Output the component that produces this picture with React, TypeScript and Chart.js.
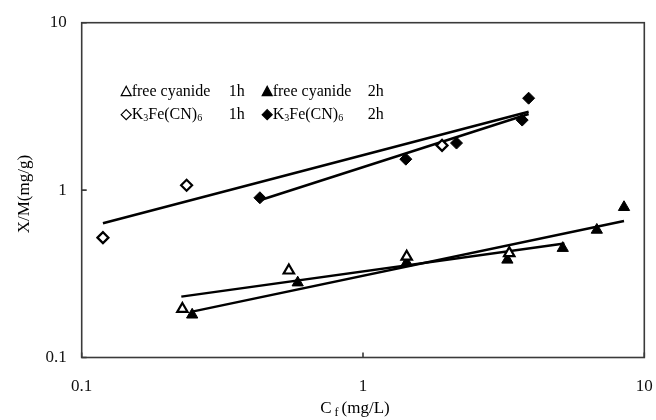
import { useEffect, useRef } from "react";
import { Chart, registerables } from "chart.js";
Chart.register(...registerables);

// X-axis and Y-axis tick labels
const xTicks = [0.1, 1, 10];
const yTicks = [0.1, 1, 10];

// measured points
const fc1hX = [0.228, 0.545, 1.43, 3.31];
const fc1hY = [0.195, 0.331, 0.4, 0.42];
const fc2hX = [0.247, 0.586, 1.43, 3.26, 5.13, 6.78, 8.47];
const fc2hY = [0.18, 0.28, 0.369, 0.383, 0.45, 0.578, 0.79];
const k1hX = [0.119, 0.236, 1.91];
const k1hY = [0.52, 1.07, 1.85];
const k2hX = [0.43, 1.42, 2.15, 3.68, 3.88];
const k2hY = [0.9, 1.53, 1.91, 2.62, 3.54];

// fitted lines (end points)
const fc1hFitX = [0.226, 5.2];
const fc1hFitY = [0.231, 0.48];
const fc2hFitX = [0.247, 8.47];
const fc2hFitY = [0.188, 0.654];
const k1hFitX = [0.119, 3.88];
const k1hFitY = [0.634, 2.94];
const k2hFitX = [0.43, 3.88];
const k2hFitY = [0.87, 2.85];

// legend text
const legendNames = ["free cyanide", "K₃Fe(CN)₆"];
const legendTimes = ["1h", "2h"];

const xTitle = ["C", "f", "(mg/L)"];
const yTitle = "X/M(mg/g)";

const FONT = '"Liberation Serif", "Times New Roman", "DejaVu Serif", serif';

function pts(xs: number[], ys: number[]) {
  return xs.map((x, i) => ({ x, y: ys[i] }));
}

const SUBS = "₀₁₂₃₄₅₆₇₈₉";

function drawRich(ctx: CanvasRenderingContext2D, text: string, x: number, y: number, size: number) {
  let cx = x;
  for (const ch of text) {
    const si = SUBS.indexOf(ch);
    if (si >= 0) {
      ctx.font = `${Math.round(size * 0.65)}px ${FONT}`;
      ctx.fillText(String(si), cx, y + size * 0.25);
      cx += ctx.measureText(String(si)).width;
    } else {
      ctx.font = `${size}px ${FONT}`;
      ctx.fillText(ch, cx, y);
      cx += ctx.measureText(ch).width;
    }
  }
  return cx;
}

function marker(ctx: CanvasRenderingContext2D, kind: string, filled: boolean, cx: number, cy: number) {
  ctx.save();
  ctx.beginPath();
  if (kind === "tri") {
    ctx.moveTo(cx, cy - 5.5);
    ctx.lineTo(cx + 5, cy + 4);
    ctx.lineTo(cx - 5, cy + 4);
    ctx.closePath();
  } else {
    ctx.moveTo(cx, cy - 5);
    ctx.lineTo(cx + 5, cy);
    ctx.lineTo(cx, cy + 5);
    ctx.lineTo(cx - 5, cy);
    ctx.closePath();
  }
  ctx.lineWidth = 1.2;
  ctx.strokeStyle = "#000";
  ctx.fillStyle = filled ? "#000" : "#fff";
  ctx.fill();
  ctx.stroke();
  ctx.restore();
}

const decor = {
  id: "decor",
  afterDraw(chart: any) {
    const ctx: CanvasRenderingContext2D = chart.ctx;
    const a = chart.chartArea;
    const xs = chart.scales.x;
    const ys = chart.scales.y;
    ctx.save();
    // frame
    ctx.strokeStyle = "#3a3a3a";
    ctx.lineWidth = 1.6;
    ctx.strokeRect(a.left, a.top, a.right - a.left, a.bottom - a.top);
    // inner tick marks
    ctx.beginPath();
    for (const v of xTicks) {
      const px = xs.getPixelForValue(v);
      ctx.moveTo(px, a.bottom);
      ctx.lineTo(px, a.bottom - 5);
    }
    for (const v of yTicks) {
      const py = ys.getPixelForValue(v);
      ctx.moveTo(a.left, py);
      ctx.lineTo(a.left + 5, py);
    }
    ctx.stroke();

    // legend
    ctx.fillStyle = "#000";
    ctx.textBaseline = "middle";
    ctx.textAlign = "left";
    const rowsY = [a.top + 69, a.top + 92];
    const kinds = ["tri", "dia"];
    for (let r = 0; r < 2; r++) {
      const y = rowsY[r];
      for (let c = 0; c < 2; c++) {
        const x0 = c === 0 ? a.left + 40 : a.left + 181;
        marker(ctx, kinds[r], c === 1, x0 + 4.5, y);
        drawRich(ctx, legendNames[r], x0 + 10, y, 16);
        ctx.font = `16px ${FONT}`;
        ctx.fillText(legendTimes[c], c === 0 ? a.left + 147 : a.left + 286, y);
      }
    }

    // x title with subscript
    ctx.font = `17px ${FONT}`;
    const wC = ctx.measureText(xTitle[0]).width;
    ctx.font = `12px ${FONT}`;
    const wf = ctx.measureText(xTitle[1]).width + 3;
    ctx.font = `17px ${FONT}`;
    const wr = ctx.measureText(xTitle[2]).width;
    const total = wC + 3 + wf + wr;
    let tx = (a.left + a.right) / 2 - total / 2 - 8;
    const ty = 409;
    ctx.fillText(xTitle[0], tx, ty);
    tx += wC + 3;
    ctx.font = `12px ${FONT}`;
    ctx.fillText(xTitle[1], tx, ty + 4);
    tx += wf;
    ctx.font = `17px ${FONT}`;
    ctx.fillText(xTitle[2], tx, ty);

    // y title rotated
    ctx.save();
    ctx.translate(25, (a.top + a.bottom) / 2 + 4);
    ctx.rotate(-Math.PI / 2);
    ctx.textAlign = "center";
    ctx.font = `17px ${FONT}`;
    ctx.fillText(yTitle, 0, 0);
    ctx.restore();

    ctx.restore();
  },
};

export default function App() {
  const ref = useRef<HTMLCanvasElement>(null);
  useEffect(() => {
    document.body.style.margin = "0";
    const fitStyle = {
      showLine: true,
      pointRadius: 0,
      borderColor: "#000",
      borderWidth: 2.5,
      backgroundColor: "#000",
    };
    const chart = new Chart(ref.current!, {
      type: "scatter",
      data: {
        datasets: [
          {
            data: pts(fc1hX, fc1hY),
            pointStyle: "triangle",
            pointRadius: 6,
            borderWidth: 2.2,
            borderColor: "#000",
            backgroundColor: "#fff",
          },
          {
            data: pts(fc2hX, fc2hY),
            pointStyle: "triangle",
            pointRadius: 6.5,
            borderWidth: 1,
            borderColor: "#000",
            backgroundColor: "#000",
          },
          {
            data: pts(k1hX, k1hY),
            pointStyle: "rectRot",
            pointRadius: 5.5,
            borderWidth: 2.2,
            borderColor: "#000",
            backgroundColor: "#fff",
          },
          {
            data: pts(k2hX, k2hY),
            pointStyle: "rectRot",
            pointRadius: 6,
            borderWidth: 1,
            borderColor: "#000",
            backgroundColor: "#000",
          },
          { data: pts(fc1hFitX, fc1hFitY), ...fitStyle },
          { data: pts(fc2hFitX, fc2hFitY), ...fitStyle },
          { data: pts(k1hFitX, k1hFitY), ...fitStyle },
          { data: pts(k2hFitX, k2hFitY), ...fitStyle },
        ] as any,
      },
      options: {
        responsive: false,
        animation: false,
        devicePixelRatio: 1,
        layout: { padding: { left: 0, top: 22.7, right: 11.7, bottom: 0 } },
        plugins: { legend: { display: false }, tooltip: { enabled: false } },
        scales: {
          x: {
            type: "logarithmic",
            min: 0.1,
            max: 10,
            afterBuildTicks: (s: any) => {
              s.ticks = xTicks.map((v) => ({ value: v }));
            },
            afterFit: (s: any) => {
              s.height = 62.5;
              s.paddingLeft = 0;
              s.paddingRight = 0;
            },
            ticks: {
              autoSkip: false,
              maxRotation: 0,
              padding: 11,
              color: "#111",
              font: { family: FONT, size: 17 },
              callback: (v: any) => String(v),
            },
            grid: { display: false },
            border: { display: false },
          },
          y: {
            type: "logarithmic",
            min: 0.1,
            max: 10,
            afterBuildTicks: (s: any) => {
              s.ticks = yTicks.map((v) => ({ value: v }));
            },
            afterFit: (s: any) => {
              s.width = 81.7;
              s.paddingTop = 0;
              s.paddingBottom = 0;
            },
            ticks: {
              autoSkip: false,
              padding: 7,
              color: "#111",
              font: { family: FONT, size: 17 },
              callback: (v: any) => String(v),
            },
            grid: { display: false },
            border: { display: false },
          },
        },
      },
      plugins: [decor],
    });
    return () => chart.destroy();
  }, []);
  return (
    <canvas
      ref={ref}
      width={656}
      height={420}
      style={{ display: "block", width: 656, height: 420 }}
    />
  );
}
